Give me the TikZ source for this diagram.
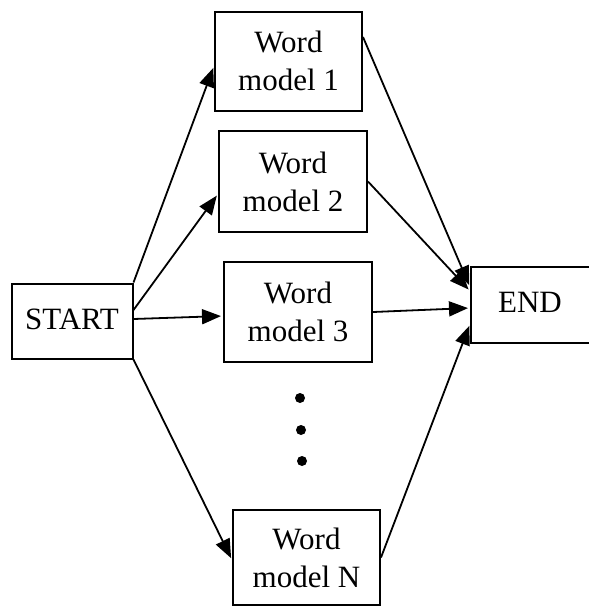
\documentclass[tikz,border=0pt]{standalone}
\usepackage{fontspec}
\setmainfont{Liberation Serif}
\usetikzlibrary{arrows.meta}
\begin{document}
\begin{tikzpicture}[x=1pt,y=-1pt,
  box/.style={draw,line width=2pt,inner sep=0pt,align=center,
    font=\fontsize{31}{38}\selectfont},
  conn/.style={line width=1.8pt,-{Triangle[length=19pt,width=15pt]},shorten >=2pt},
  dotmark/.style={circle,fill,inner sep=0pt,minimum size=10pt}]
\useasboundingbox (0,0) rectangle (589,608);
\node[box,minimum width=121pt,minimum height=75pt] (S) at (72,321) {\raisebox{3pt}{START}};
\node[box,minimum width=147pt,minimum height=99pt] (W1) at (288.5,61) {Word\\model 1};
\node[box,minimum width=148pt,minimum height=101pt] (W2) at (293,181.5) {Word\\model 2};
\node[box,minimum width=148pt,minimum height=100pt] (W3) at (298,312) {Word\\model 3};
\node[box,minimum width=147pt,minimum height=95pt] (WN) at (306.5,557.5) {Word\\model N};
\node[box,minimum width=124pt,minimum height=76pt] (E) at (533,305) {\raisebox{5pt}{END}\hspace*{6pt}};
\node[dotmark] (d1) at (300,398) {};
\node[dotmark] (d2) at (301,430) {};
\node[dotmark] (d3) at (302,461) {};
\draw[conn] (S.north east) -- ([yshift=-5pt]W1.west);
\draw[conn] ([yshift=11pt]S.east) -- ([yshift=-12.5pt]W2.west);
\draw[conn] ([yshift=2pt]S.east) -- ([yshift=-4pt]W3.west);
\draw[conn] (S.south east) -- ([yshift=-2.5pt]WN.west);
\draw[conn] ([yshift=24pt]W1.east) -- ([yshift=18pt]E.west);
\draw[conn] (W2.east) -- ([yshift=14pt]E.west);
\draw[conn] (W3.east) -- ([yshift=-3pt]E.west);
\draw[conn] (WN.east) -- ([yshift=-19pt]E.west);
\end{tikzpicture}
\end{document}
